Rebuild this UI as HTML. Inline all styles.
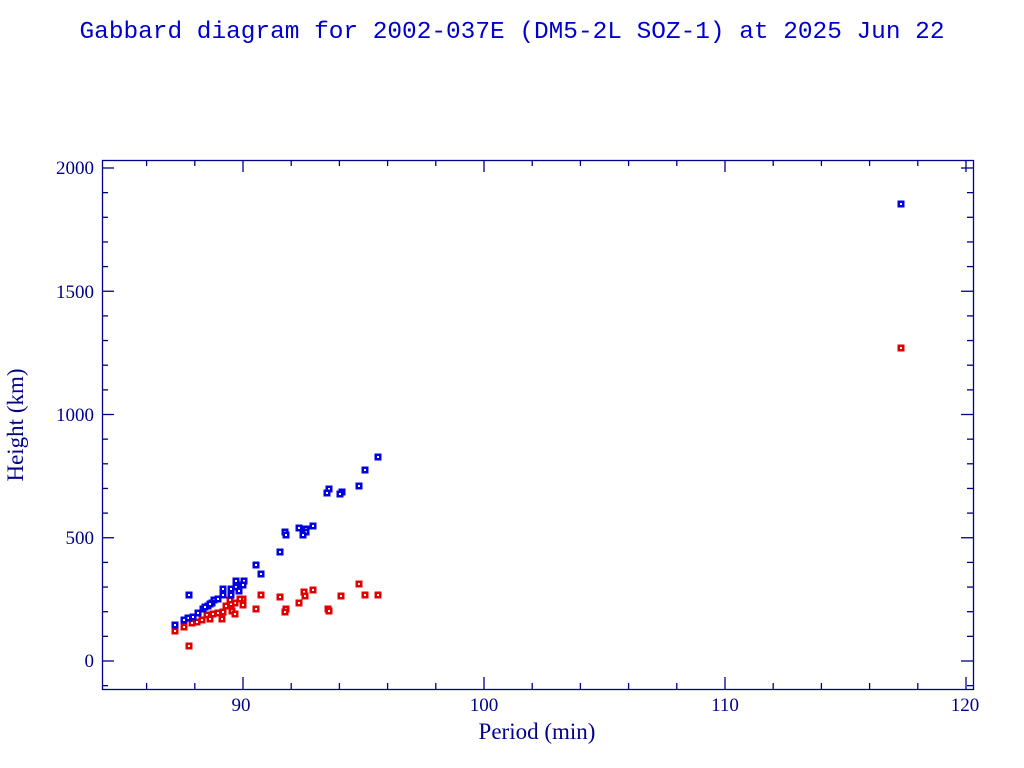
<!DOCTYPE html>
<html><head><meta charset="utf-8"><style>body{margin:0;background:#fff}svg{display:block}</style></head>
<body>
<svg id="s" width="1024" height="768" xmlns="http://www.w3.org/2000/svg">
<rect width="1024" height="768" fill="#fff"/>
<text x="512" y="38" text-anchor="middle" font-family="Liberation Mono, monospace" font-size="24" fill="#0000cc" textLength="865" lengthAdjust="spacingAndGlyphs">Gabbard diagram for 2002-037E (DM5-2L SOZ-1) at 2025 Jun 22</text>
<g id="ax" stroke="#00008b" stroke-width="1.3" fill="none">
<rect x="102.5" y="160.5" width="871" height="529"/>
</g>
<g font-family="Liberation Serif, serif" font-size="19" fill="#00008b">
<text x="241" y="711" text-anchor="middle">90</text>
<text x="484" y="711" text-anchor="middle">100</text>
<text x="725" y="711" text-anchor="middle">110</text>
<text x="965" y="711" text-anchor="middle">120</text>
<text x="94" y="174" text-anchor="end">2000</text>
<text x="94" y="298" text-anchor="end">1500</text>
<text x="94" y="421" text-anchor="end">1000</text>
<text x="94" y="544" text-anchor="end">500</text>
<text x="94" y="667" text-anchor="end">0</text>
<text x="537" y="739" text-anchor="middle" font-size="23">Period (min)</text>
<text transform="translate(23,425) rotate(-90)" text-anchor="middle" font-size="23">Height (km)</text>
</g>
<g id="pts"></g>
</svg>
<script>
var ax=document.getElementById('ax'),ns='http://www.w3.org/2000/svg';
function L(x1,y1,x2,y2){var l=document.createElementNS(ns,'line');l.setAttribute('x1',x1);l.setAttribute('y1',y1);l.setAttribute('x2',x2);l.setAttribute('y2',y2);ax.appendChild(l);}
for(var i=-3;i<=15;i++){var x=243+i*48.2;if(x<103||x>973)continue;var len=(i%5==0)?12:6;L(x,689,x,689-len);L(x,160,x,160+len);}
for(var v=-100;v<=2000;v+=100){var y=661-v*0.2465;if(y<161||y>689)continue;var len=(v%500==0)?12:6;L(102,y,102+len,y);L(973,y,973-len,y);}
var blue=[[901,204],[378,457],[365,470],[359,486],[329,489],[327,493],[342,492],[340,494],[313,526],[299,528],[306,529],[306,532],[303,535],[285,532],[286,535],[280,552],[256,565],[261,574],[189,595],[244,581],[243,585],[236,581],[236,587],[231,589],[223,589],[223,595],[231,595],[239,591],[214,600],[212,603],[208,606],[203,609],[198,613],[193,617],[188,618],[184,620],[175,625],[218,599],[210,604],[205,607]];
var red=[[901,348],[359,584],[313,590],[304,592],[305,596],[299,603],[261,595],[280,597],[256,609],[286,609],[285,612],[328,609],[329,611],[341,596],[365,595],[378,595],[243,599],[243,605],[240,599],[235,603],[231,604],[232,611],[235,614],[223,612],[222,619],[213,614],[207,615],[210,619],[202,620],[197,622],[192,623],[184,627],[175,631],[189,646],[230,600],[218,613],[226,606]];
var g=document.getElementById('pts');
function P(a,c){a.forEach(function(p){var r=document.createElementNS(ns,'rect');r.setAttribute('x',p[0]-3.5);r.setAttribute('y',p[1]-3.5);r.setAttribute('width',7);r.setAttribute('height',7);r.setAttribute('fill',c);g.appendChild(r);var w=document.createElementNS(ns,'rect');w.setAttribute('x',p[0]-1);w.setAttribute('y',p[1]-1);w.setAttribute('width',2);w.setAttribute('height',2);w.setAttribute('fill','#fff');g.appendChild(w);});}
P(red,'#e00000');P(blue,'#0000e0');
</script>
</body></html>
